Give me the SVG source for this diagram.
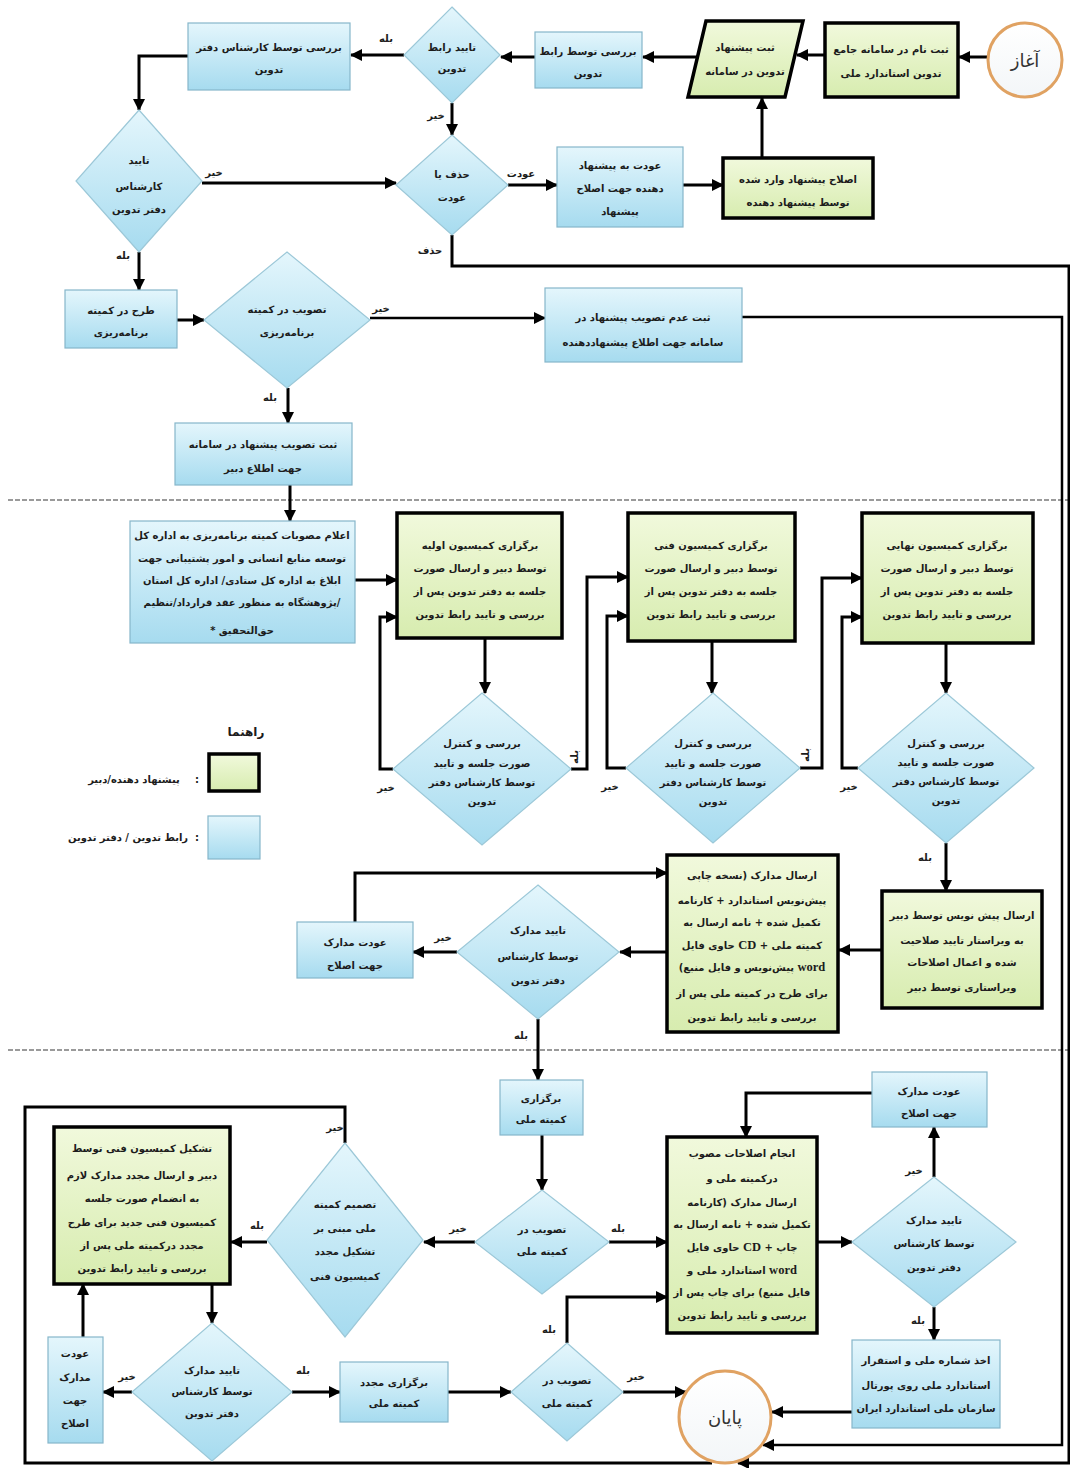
<svg xmlns="http://www.w3.org/2000/svg" width="1070" height="1468" viewBox="0 0 1070 1468">
<defs>
<linearGradient id="gb" x1="0" y1="0" x2="0" y2="1"><stop offset="0" stop-color="#e4f6fc"/><stop offset="1" stop-color="#a6dbef"/></linearGradient>
<linearGradient id="gg" x1="0" y1="0" x2="0" y2="1"><stop offset="0" stop-color="#f1f9dc"/><stop offset="1" stop-color="#d7ecaf"/></linearGradient>
<linearGradient id="gc" x1="0" y1="0" x2="0" y2="1"><stop offset="0" stop-color="#ffffff"/><stop offset="1" stop-color="#f3f6f8"/></linearGradient>
<marker id="ah" markerUnits="userSpaceOnUse" markerWidth="12" markerHeight="12" refX="11" refY="6" orient="auto"><path d="M0,0 L12,6 L0,12 z" fill="#000"/></marker>
<style>
.b{fill:url(#gb);stroke:#86b6ca;stroke-width:1.2}
.g{fill:url(#gg);stroke:#000;stroke-width:3.5}
.d{fill:url(#gb);stroke:#9cc8d8;stroke-width:1.2}
.t{font-family:"DejaVu Sans",sans-serif;font-size:10px;font-weight:bold;fill:#1c1c1c;text-anchor:middle;direction:rtl;unicode-bidi:embed}
.l{font-family:"DejaVu Sans",sans-serif;font-size:10px;font-weight:bold;fill:#1c1c1c;text-anchor:middle;direction:rtl}
.lat{font-family:"Liberation Serif",serif;font-size:12.5px;font-weight:bold}
.c{fill:none;stroke:#000;stroke-width:3;marker-end:url(#ah)}
.c2{fill:none;stroke:#000;stroke-width:2.5}
.sep{fill:none;stroke:#9a9a9a;stroke-width:2;stroke-dasharray:5 2}
.big{font-family:"DejaVu Sans",sans-serif;font-size:18px;fill:#333;text-anchor:middle;direction:rtl}
</style>
</defs>
<rect width="1070" height="1468" fill="#fff"/>
<g id="separators">
<path class="sep" d="M8,500 L1068,500"/>
<path class="sep" d="M8,1050 L1068,1050"/>
</g>
<g id="connectors">
<path class="c" d="M987,57 L959,57"/>
<path class="c" d="M825,55 L797,55"/>
<path class="c" d="M762,158 L762,98"/>
<path class="c" d="M696,57 L643,57"/>
<path class="c" d="M535,57 L501,57"/>
<path class="c" d="M404,55 L351,55"/>
<path class="c" d="M188,56 L139,56 L139,110"/>
<path class="c" d="M452,103 L452,135"/>
<path class="c" d="M202,183 L396,183"/>
<path class="c" d="M508,185 L557,185"/>
<path class="c" d="M683,185 L723,185"/>
<path class="c" d="M452,235 L452,266 L1069,266 L1069,1463 L738,1463"/>
<path class="c" d="M139,252 L139,290"/>
<path class="c" d="M177,320 L204,320"/>
<path class="c" d="M370,318 L545,318" style="stroke-width:2.5"/>
<path class="c" d="M742,317 L1062,317 L1062,1445 L763,1445" style="stroke-width:2.5"/>
<path class="c" d="M288,388 L288,423"/>
<path class="c" d="M290,485 L290,521"/>
<path class="c" d="M355,580 L397,580"/>
<path class="c" d="M485,638 L485,693"/>
<path class="c" d="M393,769 L380,769 L380,617 L397,617"/>
<path class="c" d="M571,769 L587,769 L587,577 L628,577"/>
<path class="c" d="M712,641 L712,693"/>
<path class="c" d="M626,768 L607,768 L607,616 L628,616"/>
<path class="c" d="M800,768 L822,768 L822,578 L862,578"/>
<path class="c" d="M946,643 L946,693"/>
<path class="c" d="M858,768 L842,768 L842,617 L862,617"/>
<path class="c" d="M946,843 L946,891"/>
<path class="c" d="M882,950 L839,950"/>
<path class="c" d="M667,952 L620,952"/>
<path class="c" d="M457,952 L413,952"/>
<path class="c" d="M355,922 L355,873 L667,873"/>
<path class="c" d="M538,1019 L538,1080"/>
<path class="c" d="M542,1135 L542,1190"/>
<path class="c" d="M475,1242 L424,1242"/>
<path class="c" d="M609,1242 L667,1242"/>
<path class="c" d="M817,1242 L852,1242"/>
<path class="c" d="M934,1177 L934,1127"/>
<path class="c" d="M872,1093 L746,1093 L746,1137"/>
<path class="c" d="M934,1307 L934,1340"/>
<path class="c" d="M852,1412 L772,1412"/>
<path class="c" d="M567,1343 L567,1297 L667,1297"/>
<path class="c" d="M623,1392 L686,1392"/>
<path class="c" d="M448,1392 L511,1392"/>
<path class="c" d="M292,1392 L340,1392"/>
<path class="c" d="M132,1392 L103,1392"/>
<path class="c" d="M83,1337 L83,1284"/>
<path class="c" d="M212,1284 L212,1323"/>
<path class="c" d="M267,1242 L231,1242"/>
<path class="c2" d="M345,1143 L345,1107 L25,1107 L25,1463 L712,1463" style="stroke-width:3"/>
<text class="l" x="386" y="42">بله</text>
<text class="l" x="436" y="119">خیر</text>
<text class="l" x="214" y="176">خیر</text>
<text class="l" x="521" y="177">عودت</text>
<text class="l" x="430" y="254">حذف</text>
<text class="l" x="123" y="259">بله</text>
<text class="l" x="381" y="312">خیر</text>
<text class="l" x="270" y="401">بله</text>
<text class="l" x="386" y="791">خیر</text>
<text class="l" x="578" y="757" transform="rotate(-90 578 757)">بله</text>
<text class="l" x="610" y="790">خیر</text>
<text class="l" x="809" y="755" transform="rotate(-90 809 755)">بله</text>
<text class="l" x="849" y="790">خیر</text>
<text class="l" x="925" y="861">بله</text>
<text class="l" x="443" y="941">خیر</text>
<text class="l" x="521" y="1039">بله</text>
<text class="l" x="458" y="1232">خیر</text>
<text class="l" x="618" y="1232">بله</text>
<text class="l" x="914" y="1174">خیر</text>
<text class="l" x="918" y="1324">بله</text>
<text class="l" x="549" y="1333">بله</text>
<text class="l" x="636" y="1380">خیر</text>
<text class="l" x="303" y="1374">بله</text>
<text class="l" x="127" y="1380">خیر</text>
<text class="l" x="257" y="1229">بله</text>
<text class="l" x="335" y="1131">خیر</text>
</g>
<g id="start"><circle cx="1025" cy="60" r="37" fill="url(#gc)" stroke="#e0a262" stroke-width="3"/><text class="big" x="1025" y="67">آغاز</text></g>
<g id="n_reg"><rect class="g" x="825" y="23" width="133" height="74"/><text class="t" x="891" y="53">ثبت نام در سامانه جامع</text><text class="t" x="891" y="77">تدوین استاندارد ملی</text></g>
<g id="n_submit"><polygon class="g" points="706,21 803,21 785,97 688,97"/><text class="t" x="745" y="51">ثبت پیشنهاد</text><text class="t" x="745" y="75">تدوین در سامانه</text></g>
<g id="n_rev1"><rect class="b" x="535" y="32" width="107" height="56"/><text class="t" x="588" y="55">بررسی توسط رابط</text><text class="t" x="588" y="77">تدوین</text></g>
<g id="d_rabet"><polygon class="d" points="452,7 500,55 452,103 404,55"/><text class="t" x="452" y="51">تایید رابط</text><text class="t" x="452" y="72">تدوین</text></g>
<g id="n_rev2"><rect class="b" x="188" y="23" width="162" height="67"/><text class="t" x="269" y="51">بررسی توسط کارشناس دفتر</text><text class="t" x="269" y="73">تدوین</text></g>
<g id="d_exp"><polygon class="d" points="139,110 202,181 139,252 76,181"/><text class="t" x="139" y="164">تایید</text><text class="t" x="139" y="190">کارشناس</text><text class="t" x="139" y="213">دفتر تدوین</text></g>
<g id="d_del"><polygon class="d" points="452,135 508,185 452,235 396,185"/><text class="t" x="452" y="178">حذف یا</text><text class="t" x="452" y="201">عودت</text></g>
<g id="n_return"><rect class="b" x="557" y="147" width="126" height="80"/><text class="t" x="620" y="169">عودت به پیشنهاد</text><text class="t" x="620" y="192">دهنده جهت اصلاح</text><text class="t" x="620" y="215">پیشنهاد</text></g>
<g id="n_fix"><rect class="g" x="723" y="158" width="150" height="60"/><text class="t" x="798" y="183">اصلاح پیشنهاد وارد شده</text><text class="t" x="798" y="206">توسط پیشنهاد دهنده</text></g>
<g id="n_plan"><rect class="b" x="65" y="290" width="112" height="58"/><text class="t" x="121" y="314">طرح در کمیته</text><text class="t" x="121" y="336">برنامه‌ریزی</text></g>
<g id="d_plan"><polygon class="d" points="287,252 370,320 287,388 204,320"/><text class="t" x="287" y="313">تصویب در کمیته</text><text class="t" x="287" y="336">برنامه‌ریزی</text></g>
<g id="n_reject"><rect class="b" x="545" y="288" width="197" height="74"/><text class="t" x="643" y="321">ثبت عدم تصویب پیشنهاد در</text><text class="t" x="643" y="346">سامانه جهت اطلاع پیشنهاددهنده</text></g>
<g id="n_approve"><rect class="b" x="175" y="423" width="177" height="62"/><text class="t" x="263" y="448">ثبت تصویب پیشنهاد در سامانه</text><text class="t" x="263" y="472">جهت اطلاع دبیر</text></g>
<g id="n_announce"><rect class="b" x="130" y="521" width="225" height="122"/><text class="t" x="242" y="539">اعلام مصوبات کمیته برنامه‌ریزی به اداره کل</text><text class="t" x="242" y="562">توسعه منابع انسانی و امور پشتیبانی جهت</text><text class="t" x="242" y="584">ابلاغ به اداره کل ستادی/ اداره کل استان</text><text class="t" x="242" y="606">/پژوهشگاه به منظور عقد قرارداد/تنظیم</text><text class="t" x="242" y="634">حق‌التحقیق *</text></g>
<g id="g1"><rect class="g" x="397" y="513" width="165" height="125"/><text class="t" x="480" y="549">برگزاری کمیسیون اولیه</text><text class="t" x="480" y="572">توسط دبیر و ارسال صورت</text><text class="t" x="480" y="595">جلسه به دفتر تدوین پس از</text><text class="t" x="480" y="618">بررسی و تایید رابط تدوین</text></g>
<g id="g2"><rect class="g" x="628" y="513" width="167" height="128"/><text class="t" x="711" y="549">برگزاری کمیسیون فنی</text><text class="t" x="711" y="572">توسط دبیر و ارسال صورت</text><text class="t" x="711" y="595">جلسه به دفتر تدوین پس از</text><text class="t" x="711" y="618">بررسی و تایید رابط تدوین</text></g>
<g id="g3"><rect class="g" x="862" y="513" width="171" height="130"/><text class="t" x="947" y="549">برگزاری کمیسیون نهایی</text><text class="t" x="947" y="572">توسط دبیر و ارسال صورت</text><text class="t" x="947" y="595">جلسه به دفتر تدوین پس از</text><text class="t" x="947" y="618">بررسی و تایید رابط تدوین</text></g>
<g id="d1"><polygon class="d" points="482,693 571,769 482,845 393,769"/><text class="t" x="482" y="747">بررسی و کنترل</text><text class="t" x="482" y="767">صورت جلسه و تایید</text><text class="t" x="482" y="786">توسط کارشناس دفتر</text><text class="t" x="482" y="805">تدوین</text></g>
<g id="d2"><polygon class="d" points="713,693 800,768 713,843 626,768"/><text class="t" x="713" y="747">بررسی و کنترل</text><text class="t" x="713" y="767">صورت جلسه و تایید</text><text class="t" x="713" y="786">توسط کارشناس دفتر</text><text class="t" x="713" y="805">تدوین</text></g>
<g id="d3"><polygon class="d" points="946,693 1034,768 946,843 858,768"/><text class="t" x="946" y="747">بررسی و کنترل</text><text class="t" x="946" y="766">صورت جلسه و تایید</text><text class="t" x="946" y="785">توسط کارشناس دفتر</text><text class="t" x="946" y="804">تدوین</text></g>
<g id="g4"><rect class="g" x="882" y="891" width="160" height="117"/><text class="t" x="962" y="919">ارسال پیش نویس توسط دبیر</text><text class="t" x="962" y="944">به ویراستار تایید صلاحیت</text><text class="t" x="962" y="966">شده و اعمال اصلاحات</text><text class="t" x="962" y="991">ویراستاری توسط دبیر</text></g>
<g id="g5"><rect class="g" x="667" y="855" width="171" height="177"/><text class="t" x="752" y="879">ارسال مدارک (نسخه چاپی</text><text class="t" x="752" y="904">پیش‌نویس استاندارد + کارنامه</text><text class="t" x="752" y="926">تکمیل شده + نامه ارسال به</text><text class="t" x="752" y="949">کمیته ملی + <tspan class="lat">CD</tspan> حاوی فایل</text><text class="t" x="752" y="971"><tspan class="lat">word</tspan> پیش‌نویس و فایل منبع)</text><text class="t" x="752" y="997">برای طرح در کمیته ملی پس از</text><text class="t" x="752" y="1021">بررسی و تایید رابط تدوین</text></g>
<g id="d4"><polygon class="d" points="538,885 619,952 538,1019 457,952"/><text class="t" x="538" y="934">تایید مدارک</text><text class="t" x="538" y="960">توسط کارشناس</text><text class="t" x="538" y="984">دفتر تدوین</text></g>
<g id="n_ret2"><rect class="b" x="297" y="922" width="116" height="56"/><text class="t" x="355" y="946">عودت مدارک</text><text class="t" x="355" y="969">جهت اصلاح</text></g>
<g id="n_nat"><rect class="b" x="500" y="1080" width="83" height="55"/><text class="t" x="541" y="1102">برگزاری</text><text class="t" x="541" y="1123">کمیته ملی</text></g>
<g id="d5"><polygon class="d" points="542,1190 609,1242 542,1294 475,1242"/><text class="t" x="542" y="1233">تصویب در</text><text class="t" x="542" y="1255">کمیته ملی</text></g>
<g id="g6"><rect class="g" x="667" y="1137" width="150" height="196"/><text class="t" x="742" y="1157">انجام اصلاحات مصوب</text><text class="t" x="742" y="1182">درکمیته ملی و</text><text class="t" x="742" y="1206">ارسال مدارک (کارنامه</text><text class="t" x="742" y="1228">تکمیل شده + نامه ارسال به</text><text class="t" x="742" y="1251">چاپ + <tspan class="lat">CD</tspan> حاوی فایل</text><text class="t" x="742" y="1274"><tspan class="lat">word</tspan> استاندارد ملی و</text><text class="t" x="742" y="1296">فایل منبع) برای چاپ پس از</text><text class="t" x="742" y="1319">بررسی و تایید رابط تدوین</text></g>
<g id="d6"><polygon class="d" points="934,1177 1016,1242 934,1307 852,1242"/><text class="t" x="934" y="1224">تایید مدارک</text><text class="t" x="934" y="1247">توسط کارشناس</text><text class="t" x="934" y="1271">دفتر تدوین</text></g>
<g id="n_ret3"><rect class="b" x="872" y="1072" width="115" height="55"/><text class="t" x="929" y="1095">عودت مدارک</text><text class="t" x="929" y="1117">جهت اصلاح</text></g>
<g id="n_publish"><rect class="b" x="852" y="1340" width="148" height="88"/><text class="t" x="926" y="1364">اخذ شماره ملی و استقرار</text><text class="t" x="926" y="1389">استاندارد ملی روی پورتال</text><text class="t" x="926" y="1412">سازمان ملی استاندارد ایران</text></g>
<g id="end"><circle cx="725" cy="1417" r="46" fill="url(#gc)" stroke="#e0a262" stroke-width="3"/><text class="big" x="725" y="1424">پایان</text></g>
<g id="d7"><polygon class="d" points="567,1343 623,1392 567,1441 511,1392"/><text class="t" x="567" y="1384">تصویب در</text><text class="t" x="567" y="1407">کمیته ملی</text></g>
<g id="n_renat"><rect class="b" x="340" y="1362" width="108" height="60"/><text class="t" x="394" y="1386">برگزاری مجدد</text><text class="t" x="394" y="1407">کمیته ملی</text></g>
<g id="d8"><polygon class="d" points="212,1323 292,1392 212,1461 132,1392"/><text class="t" x="212" y="1374">تایید مدارک</text><text class="t" x="212" y="1395">توسط کارشناس</text><text class="t" x="212" y="1417">دفتر تدوین</text></g>
<g id="n_ret4"><rect class="b" x="48" y="1337" width="55" height="106"/><text class="t" x="75" y="1357">عودت</text><text class="t" x="75" y="1381">مدارک</text><text class="t" x="75" y="1404">جهت</text><text class="t" x="75" y="1427">اصلاح</text></g>
<g id="g7"><rect class="g" x="54" y="1127" width="176" height="157"/><text class="t" x="142" y="1152">تشکیل کمیسیون فنی توسط</text><text class="t" x="142" y="1179">دبیر و ارسال مجدد مدارک لازم</text><text class="t" x="142" y="1202">به انضمام صورت جلسه</text><text class="t" x="142" y="1226">کمیسیون فنی جدید برای طرح</text><text class="t" x="142" y="1249">مجدد درکمیته ملی پس از</text><text class="t" x="142" y="1272">بررسی و تایید رابط تدوین</text></g>
<g id="d9"><polygon class="d" points="345,1143 423,1240 345,1337 267,1240"/><text class="t" x="345" y="1208">تصمیم کمیته</text><text class="t" x="345" y="1232">ملی مبنی بر</text><text class="t" x="345" y="1255">تشکیل مجدد</text><text class="t" x="345" y="1280">کمیسیون فنی</text></g>
<g id="legend">
<text class="t" x="246" y="736" style="font-size:12px">راهنما</text>
<rect class="g" x="209" y="754" width="50" height="37"/>
<text class="t" x="197" y="783">:</text>
<text class="t" x="134" y="783">پیشنهاد دهنده/دبیر</text>
<rect class="b" x="208" y="816" width="52" height="43"/>
<text class="t" x="197" y="841">:</text>
<text class="t" x="128" y="841">رابط تدوین / دفتر تدوین</text>
</g>
</svg>
